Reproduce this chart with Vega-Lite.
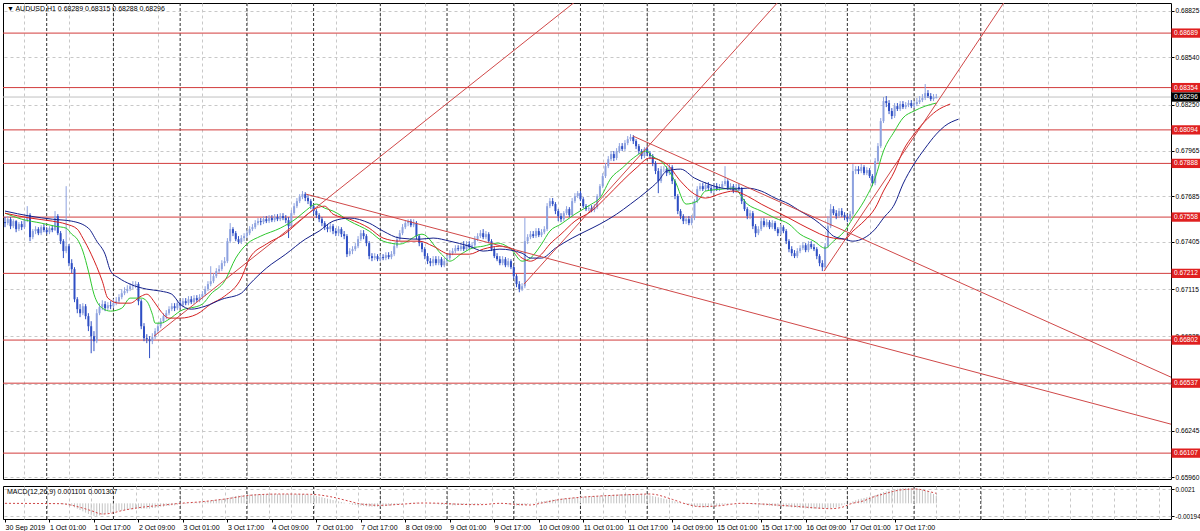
{
"$schema":"https://vega.github.io/schema/vega-lite/v6.json",
"background":"#ffffff",
"padding":{"left":2,"top":2,"right":0,"bottom":0},
"spacing":3,
"config":{"view":{"stroke":"#000000","strokeWidth":1},"font":"Liberation Sans","axis":{"labelFont":"Liberation Sans","labelFontSize":7,"labelColor":"#000000","tickColor":"#000000","domainColor":"#000000"}},
"datasets":{
"bars":[
{"i":0,"o":0.67527,"h":0.67558,"l":0.67496,"c":0.67521,"m":0.00005},
{"i":1,"o":0.67521,"h":0.67564,"l":0.67508,"c":0.67545,"m":0.00004},
{"i":2,"o":0.67545,"h":0.67558,"l":0.67484,"c":0.67502,"m":0.00003},
{"i":3,"o":0.67502,"h":0.67545,"l":0.67490,"c":0.67533,"m":0.00003},
{"i":4,"o":0.67533,"h":0.67539,"l":0.67465,"c":0.67484,"m":0.00002},
{"i":5,"o":0.67484,"h":0.67527,"l":0.67472,"c":0.67515,"m":0.00001},
{"i":6,"o":0.67515,"h":0.67533,"l":0.67478,"c":0.67496,"m":0},
{"i":7,"o":0.67496,"h":0.67552,"l":0.67484,"c":0.67539,"m":0},
{"i":8,"o":0.67539,"h":0.67625,"l":0.67527,"c":0.67570,"m":-0.00001},
{"i":9,"o":0.67570,"h":0.67582,"l":0.67410,"c":0.67435,"m":-0.00003},
{"i":10,"o":0.67435,"h":0.67484,"l":0.67422,"c":0.67472,"m":-0.00003},
{"i":11,"o":0.67472,"h":0.67502,"l":0.67453,"c":0.67484,"m":-0.00003},
{"i":12,"o":0.67484,"h":0.67496,"l":0.67447,"c":0.67459,"m":-0.00004},
{"i":13,"o":0.67459,"h":0.67508,"l":0.67447,"c":0.67496,"m":-0.00004},
{"i":14,"o":0.67496,"h":0.67515,"l":0.67465,"c":0.67478,"m":-0.00004},
{"i":15,"o":0.67478,"h":0.67496,"l":0.67453,"c":0.67465,"m":-0.00005},
{"i":16,"o":0.67465,"h":0.67502,"l":0.67453,"c":0.67490,"m":-0.00005},
{"i":17,"o":0.67490,"h":0.67508,"l":0.67465,"c":0.67478,"m":-0.00005},
{"i":18,"o":0.67478,"h":0.67595,"l":0.67472,"c":0.67564,"m":-0.00004},
{"i":19,"o":0.67564,"h":0.67576,"l":0.67447,"c":0.67459,"m":-0.00006},
{"i":20,"o":0.67459,"h":0.67472,"l":0.67392,"c":0.67410,"m":-0.0001},
{"i":21,"o":0.67410,"h":0.67422,"l":0.67306,"c":0.67349,"m":-0.00015},
{"i":22,"o":0.67349,"h":0.67748,"l":0.67336,"c":0.67379,"m":-0.0002},
{"i":23,"o":0.67379,"h":0.67392,"l":0.67256,"c":0.67275,"m":-0.0003},
{"i":24,"o":0.67275,"h":0.67299,"l":0.67213,"c":0.67238,"m":-0.0004},
{"i":25,"o":0.67238,"h":0.67250,"l":0.67035,"c":0.67053,"m":-0.0006},
{"i":26,"o":0.67053,"h":0.67066,"l":0.66967,"c":0.66992,"m":-0.0008},
{"i":27,"o":0.66992,"h":0.67023,"l":0.66943,"c":0.66967,"m":-0.001},
{"i":28,"o":0.66967,"h":0.67029,"l":0.66955,"c":0.67010,"m":-0.0012},
{"i":29,"o":0.67010,"h":0.67023,"l":0.66930,"c":0.66949,"m":-0.0014},
{"i":30,"o":0.66949,"h":0.66967,"l":0.66857,"c":0.66887,"m":-0.0016},
{"i":31,"o":0.66887,"h":0.66918,"l":0.66721,"c":0.66826,"m":-0.0018},
{"i":32,"o":0.66826,"h":0.66857,"l":0.66734,"c":0.66795,"m":-0.0019},
{"i":33,"o":0.66795,"h":0.66992,"l":0.66783,"c":0.66967,"m":-0.0019},
{"i":34,"o":0.66967,"h":0.67029,"l":0.66955,"c":0.67004,"m":-0.0018},
{"i":35,"o":0.67004,"h":0.67047,"l":0.66986,"c":0.67023,"m":-0.0017},
{"i":36,"o":0.67023,"h":0.67041,"l":0.66980,"c":0.66998,"m":-0.0016},
{"i":37,"o":0.66998,"h":0.67035,"l":0.66986,"c":0.67016,"m":-0.0015},
{"i":38,"o":0.67016,"h":0.67041,"l":0.66992,"c":0.67010,"m":-0.0014},
{"i":39,"o":0.67010,"h":0.67053,"l":0.66998,"c":0.67029,"m":-0.0013},
{"i":40,"o":0.67029,"h":0.67066,"l":0.67016,"c":0.67041,"m":-0.0012},
{"i":41,"o":0.67041,"h":0.67084,"l":0.67029,"c":0.67066,"m":-0.0011},
{"i":42,"o":0.67066,"h":0.67115,"l":0.67053,"c":0.67090,"m":-0.0011},
{"i":43,"o":0.67090,"h":0.67127,"l":0.67078,"c":0.67103,"m":-0.001},
{"i":44,"o":0.67103,"h":0.67139,"l":0.67090,"c":0.67115,"m":-0.001},
{"i":45,"o":0.67115,"h":0.67152,"l":0.67103,"c":0.67133,"m":-0.0009},
{"i":46,"o":0.67133,"h":0.67164,"l":0.67115,"c":0.67139,"m":-0.0009},
{"i":47,"o":0.67139,"h":0.67164,"l":0.67121,"c":0.67146,"m":-0.0008},
{"i":48,"o":0.67146,"h":0.67158,"l":0.67016,"c":0.67041,"m":-0.0008},
{"i":49,"o":0.67041,"h":0.67053,"l":0.66869,"c":0.66887,"m":-0.0008},
{"i":50,"o":0.66887,"h":0.66906,"l":0.66795,"c":0.66814,"m":-0.0008},
{"i":51,"o":0.66814,"h":0.66838,"l":0.66783,"c":0.66807,"m":-0.0008},
{"i":52,"o":0.66807,"h":0.66826,"l":0.66691,"c":0.66795,"m":-0.0008},
{"i":53,"o":0.66795,"h":0.66844,"l":0.66777,"c":0.66820,"m":-0.0007},
{"i":54,"o":0.66820,"h":0.66875,"l":0.66807,"c":0.66857,"m":-0.0007},
{"i":55,"o":0.66857,"h":0.66906,"l":0.66844,"c":0.66887,"m":-0.0006},
{"i":56,"o":0.66887,"h":0.66937,"l":0.66875,"c":0.66918,"m":-0.0005},
{"i":57,"o":0.66918,"h":0.66967,"l":0.66906,"c":0.66949,"m":-0.0005},
{"i":58,"o":0.66949,"h":0.66986,"l":0.66930,"c":0.66967,"m":-0.0004},
{"i":59,"o":0.66967,"h":0.67010,"l":0.66955,"c":0.66992,"m":-0.0004},
{"i":60,"o":0.66992,"h":0.67029,"l":0.66980,"c":0.67010,"m":-0.0003},
{"i":61,"o":0.67010,"h":0.67029,"l":0.66980,"c":0.66998,"m":-0.0003},
{"i":62,"o":0.66998,"h":0.67047,"l":0.66986,"c":0.67029,"m":-0.0002},
{"i":63,"o":0.67029,"h":0.67047,"l":0.66998,"c":0.67016,"m":-0.0002},
{"i":64,"o":0.67016,"h":0.67060,"l":0.67004,"c":0.67041,"m":-0.0001},
{"i":65,"o":0.67041,"h":0.67060,"l":0.67016,"c":0.67029,"m":-0.0001},
{"i":66,"o":0.67029,"h":0.67072,"l":0.67016,"c":0.67053,"m":0},
{"i":67,"o":0.67053,"h":0.67072,"l":0.67023,"c":0.67035,"m":0.00005},
{"i":68,"o":0.67035,"h":0.67078,"l":0.67023,"c":0.67060,"m":0.0001},
{"i":69,"o":0.67060,"h":0.67078,"l":0.67035,"c":0.67047,"m":0.00015},
{"i":70,"o":0.67047,"h":0.67084,"l":0.67035,"c":0.67066,"m":0.0002},
{"i":71,"o":0.67066,"h":0.67103,"l":0.67053,"c":0.67084,"m":0.00025},
{"i":72,"o":0.67084,"h":0.67133,"l":0.67072,"c":0.67115,"m":0.0003},
{"i":73,"o":0.67115,"h":0.67164,"l":0.67103,"c":0.67146,"m":0.00035},
{"i":74,"o":0.67146,"h":0.67256,"l":0.67133,"c":0.67164,"m":0.0004},
{"i":75,"o":0.67164,"h":0.67213,"l":0.67152,"c":0.67195,"m":0.0005},
{"i":76,"o":0.67195,"h":0.67244,"l":0.67183,"c":0.67226,"m":0.00055},
{"i":77,"o":0.67226,"h":0.67262,"l":0.67213,"c":0.67238,"m":0.0006},
{"i":78,"o":0.67238,"h":0.67293,"l":0.67226,"c":0.67275,"m":0.00065},
{"i":79,"o":0.67275,"h":0.67312,"l":0.67256,"c":0.67287,"m":0.0007},
{"i":80,"o":0.67287,"h":0.67429,"l":0.67275,"c":0.67410,"m":0.0008},
{"i":81,"o":0.67410,"h":0.67521,"l":0.67398,"c":0.67484,"m":0.0009},
{"i":82,"o":0.67484,"h":0.67496,"l":0.67441,"c":0.67459,"m":0.001},
{"i":83,"o":0.67459,"h":0.67472,"l":0.67410,"c":0.67422,"m":0.0011},
{"i":84,"o":0.67422,"h":0.67441,"l":0.67392,"c":0.67404,"m":0.00115},
{"i":85,"o":0.67404,"h":0.67447,"l":0.67392,"c":0.67429,"m":0.0012},
{"i":86,"o":0.67429,"h":0.67459,"l":0.67410,"c":0.67441,"m":0.00125},
{"i":87,"o":0.67441,"h":0.67478,"l":0.67429,"c":0.67459,"m":0.0013},
{"i":88,"o":0.67459,"h":0.67502,"l":0.67447,"c":0.67484,"m":0.0013},
{"i":89,"o":0.67484,"h":0.67515,"l":0.67472,"c":0.67496,"m":0.00135},
{"i":90,"o":0.67496,"h":0.67539,"l":0.67484,"c":0.67521,"m":0.00135},
{"i":91,"o":0.67521,"h":0.67552,"l":0.67508,"c":0.67533,"m":0.0014},
{"i":92,"o":0.67533,"h":0.67552,"l":0.67508,"c":0.67527,"m":0.0014},
{"i":93,"o":0.67527,"h":0.67564,"l":0.67515,"c":0.67545,"m":0.0014},
{"i":94,"o":0.67545,"h":0.67564,"l":0.67521,"c":0.67533,"m":0.0014},
{"i":95,"o":0.67533,"h":0.67570,"l":0.67521,"c":0.67552,"m":0.0014},
{"i":96,"o":0.67552,"h":0.67570,"l":0.67527,"c":0.67539,"m":0.0014},
{"i":97,"o":0.67539,"h":0.67576,"l":0.67527,"c":0.67558,"m":0.0014},
{"i":98,"o":0.67558,"h":0.67576,"l":0.67533,"c":0.67545,"m":0.0014},
{"i":99,"o":0.67545,"h":0.67582,"l":0.67533,"c":0.67564,"m":0.0014},
{"i":100,"o":0.67564,"h":0.67582,"l":0.67539,"c":0.67552,"m":0.0014},
{"i":101,"o":0.67552,"h":0.67570,"l":0.67521,"c":0.67539,"m":0.0014},
{"i":102,"o":0.67539,"h":0.67558,"l":0.67429,"c":0.67502,"m":0.0014},
{"i":103,"o":0.67502,"h":0.67601,"l":0.67490,"c":0.67582,"m":0.00135},
{"i":104,"o":0.67582,"h":0.67644,"l":0.67570,"c":0.67625,"m":0.00135},
{"i":105,"o":0.67625,"h":0.67675,"l":0.67613,"c":0.67656,"m":0.0014},
{"i":106,"o":0.67656,"h":0.67699,"l":0.67644,"c":0.67681,"m":0.0014},
{"i":107,"o":0.67681,"h":0.67718,"l":0.67668,"c":0.67699,"m":0.0014},
{"i":108,"o":0.67699,"h":0.67711,"l":0.67656,"c":0.67675,"m":0.00135},
{"i":109,"o":0.67675,"h":0.67693,"l":0.67638,"c":0.67656,"m":0.0013},
{"i":110,"o":0.67656,"h":0.67668,"l":0.67607,"c":0.67625,"m":0.00125},
{"i":111,"o":0.67625,"h":0.67638,"l":0.67576,"c":0.67595,"m":0.0012},
{"i":112,"o":0.67595,"h":0.67607,"l":0.67552,"c":0.67570,"m":0.0011},
{"i":113,"o":0.67570,"h":0.67582,"l":0.67527,"c":0.67545,"m":0.001},
{"i":114,"o":0.67545,"h":0.67558,"l":0.67502,"c":0.67521,"m":0.0009},
{"i":115,"o":0.67521,"h":0.67533,"l":0.67478,"c":0.67496,"m":0.0008},
{"i":116,"o":0.67496,"h":0.67515,"l":0.67465,"c":0.67484,"m":0.0007},
{"i":117,"o":0.67484,"h":0.67521,"l":0.67465,"c":0.67502,"m":0.0006},
{"i":118,"o":0.67502,"h":0.67515,"l":0.67453,"c":0.67472,"m":0.0005},
{"i":119,"o":0.67472,"h":0.67490,"l":0.67441,"c":0.67459,"m":0.0004},
{"i":120,"o":0.67459,"h":0.67502,"l":0.67441,"c":0.67484,"m":0.0003},
{"i":121,"o":0.67484,"h":0.67496,"l":0.67435,"c":0.67453,"m":0.0002},
{"i":122,"o":0.67453,"h":0.67472,"l":0.67422,"c":0.67441,"m":0.0001},
{"i":123,"o":0.67441,"h":0.67453,"l":0.67312,"c":0.67330,"m":0},
{"i":124,"o":0.67330,"h":0.67367,"l":0.67318,"c":0.67349,"m":-0.0001},
{"i":125,"o":0.67349,"h":0.67379,"l":0.67330,"c":0.67361,"m":-0.0002},
{"i":126,"o":0.67361,"h":0.67398,"l":0.67349,"c":0.67379,"m":-0.00025},
{"i":127,"o":0.67379,"h":0.67441,"l":0.67367,"c":0.67422,"m":-0.0003},
{"i":128,"o":0.67422,"h":0.67478,"l":0.67410,"c":0.67459,"m":-0.00035},
{"i":129,"o":0.67459,"h":0.67478,"l":0.67422,"c":0.67441,"m":-0.0004},
{"i":130,"o":0.67441,"h":0.67453,"l":0.67379,"c":0.67398,"m":-0.00045},
{"i":131,"o":0.67398,"h":0.67410,"l":0.67299,"c":0.67318,"m":-0.0005},
{"i":132,"o":0.67318,"h":0.67336,"l":0.67287,"c":0.67306,"m":-0.0005},
{"i":133,"o":0.67306,"h":0.67336,"l":0.67293,"c":0.67318,"m":-0.0005},
{"i":134,"o":0.67318,"h":0.67330,"l":0.67287,"c":0.67299,"m":-0.0005},
{"i":135,"o":0.67299,"h":0.67330,"l":0.67287,"c":0.67312,"m":-0.0005},
{"i":136,"o":0.67312,"h":0.67330,"l":0.67293,"c":0.67306,"m":-0.00045},
{"i":137,"o":0.67306,"h":0.67342,"l":0.67293,"c":0.67324,"m":-0.0004},
{"i":138,"o":0.67324,"h":0.67342,"l":0.67299,"c":0.67312,"m":-0.00035},
{"i":139,"o":0.67312,"h":0.67349,"l":0.67299,"c":0.67330,"m":-0.0003},
{"i":140,"o":0.67330,"h":0.67398,"l":0.67318,"c":0.67379,"m":-0.00025},
{"i":141,"o":0.67379,"h":0.67441,"l":0.67367,"c":0.67422,"m":-0.0002},
{"i":142,"o":0.67422,"h":0.67478,"l":0.67410,"c":0.67459,"m":-0.00015},
{"i":143,"o":0.67459,"h":0.67515,"l":0.67447,"c":0.67496,"m":-0.0001},
{"i":144,"o":0.67496,"h":0.67539,"l":0.67484,"c":0.67521,"m":0},
{"i":145,"o":0.67521,"h":0.67545,"l":0.67502,"c":0.67533,"m":0.00005},
{"i":146,"o":0.67533,"h":0.67545,"l":0.67496,"c":0.67508,"m":0.0001},
{"i":147,"o":0.67508,"h":0.67545,"l":0.67496,"c":0.67521,"m":0.0001},
{"i":148,"o":0.67521,"h":0.67533,"l":0.67422,"c":0.67441,"m":0.0001},
{"i":149,"o":0.67441,"h":0.67453,"l":0.67379,"c":0.67398,"m":0.00005},
{"i":150,"o":0.67398,"h":0.67410,"l":0.67342,"c":0.67361,"m":0.00005},
{"i":151,"o":0.67361,"h":0.67373,"l":0.67299,"c":0.67318,"m":0},
{"i":152,"o":0.67318,"h":0.67336,"l":0.67269,"c":0.67287,"m":0},
{"i":153,"o":0.67287,"h":0.67306,"l":0.67256,"c":0.67275,"m":-0.00005},
{"i":154,"o":0.67275,"h":0.67318,"l":0.67256,"c":0.67299,"m":-0.0001},
{"i":155,"o":0.67299,"h":0.67318,"l":0.67262,"c":0.67275,"m":-0.0001},
{"i":156,"o":0.67275,"h":0.67318,"l":0.67262,"c":0.67299,"m":-0.00015},
{"i":157,"o":0.67299,"h":0.67312,"l":0.67250,"c":0.67262,"m":-0.0002},
{"i":158,"o":0.67262,"h":0.67306,"l":0.67250,"c":0.67287,"m":-0.0002},
{"i":159,"o":0.67287,"h":0.67324,"l":0.67275,"c":0.67306,"m":-0.00025},
{"i":160,"o":0.67306,"h":0.67355,"l":0.67293,"c":0.67336,"m":-0.00025},
{"i":161,"o":0.67336,"h":0.67367,"l":0.67324,"c":0.67349,"m":-0.0003},
{"i":162,"o":0.67349,"h":0.67385,"l":0.67336,"c":0.67367,"m":-0.0003},
{"i":163,"o":0.67367,"h":0.67385,"l":0.67349,"c":0.67361,"m":-0.00025},
{"i":164,"o":0.67361,"h":0.67398,"l":0.67349,"c":0.67379,"m":-0.00025},
{"i":165,"o":0.67379,"h":0.67410,"l":0.67349,"c":0.67361,"m":-0.0002},
{"i":166,"o":0.67361,"h":0.67410,"l":0.67349,"c":0.67392,"m":-0.0002},
{"i":167,"o":0.67392,"h":0.67410,"l":0.67361,"c":0.67373,"m":-0.0002},
{"i":168,"o":0.67373,"h":0.67404,"l":0.67361,"c":0.67385,"m":-0.0002},
{"i":169,"o":0.67385,"h":0.67441,"l":0.67373,"c":0.67422,"m":-0.00015},
{"i":170,"o":0.67422,"h":0.67459,"l":0.67410,"c":0.67441,"m":-0.00015},
{"i":171,"o":0.67441,"h":0.67478,"l":0.67429,"c":0.67459,"m":-0.0001},
{"i":172,"o":0.67459,"h":0.67484,"l":0.67422,"c":0.67435,"m":-0.00005},
{"i":173,"o":0.67435,"h":0.67472,"l":0.67422,"c":0.67453,"m":0},
{"i":174,"o":0.67453,"h":0.67465,"l":0.67398,"c":0.67410,"m":0},
{"i":175,"o":0.67410,"h":0.67422,"l":0.67349,"c":0.67361,"m":0.00005},
{"i":176,"o":0.67361,"h":0.67373,"l":0.67306,"c":0.67318,"m":0},
{"i":177,"o":0.67318,"h":0.67336,"l":0.67287,"c":0.67299,"m":0},
{"i":178,"o":0.67299,"h":0.67318,"l":0.67262,"c":0.67275,"m":-0.00005},
{"i":179,"o":0.67275,"h":0.67318,"l":0.67262,"c":0.67299,"m":-0.00005},
{"i":180,"o":0.67299,"h":0.67312,"l":0.67250,"c":0.67262,"m":-0.0001},
{"i":181,"o":0.67262,"h":0.67306,"l":0.67250,"c":0.67287,"m":-0.00015},
{"i":182,"o":0.67287,"h":0.67299,"l":0.67238,"c":0.67250,"m":-0.0002},
{"i":183,"o":0.67250,"h":0.67262,"l":0.67176,"c":0.67195,"m":-0.00025},
{"i":184,"o":0.67195,"h":0.67207,"l":0.67127,"c":0.67146,"m":-0.0003},
{"i":185,"o":0.67146,"h":0.67164,"l":0.67096,"c":0.67115,"m":-0.00035},
{"i":186,"o":0.67115,"h":0.67152,"l":0.67103,"c":0.67133,"m":-0.00035},
{"i":187,"o":0.67133,"h":0.67552,"l":0.67121,"c":0.67410,"m":-0.00025},
{"i":188,"o":0.67410,"h":0.67453,"l":0.67392,"c":0.67435,"m":-0.00015},
{"i":189,"o":0.67435,"h":0.67472,"l":0.67422,"c":0.67453,"m":-0.00005},
{"i":190,"o":0.67453,"h":0.67472,"l":0.67429,"c":0.67441,"m":0.00005},
{"i":191,"o":0.67441,"h":0.67490,"l":0.67429,"c":0.67472,"m":0.00015},
{"i":192,"o":0.67472,"h":0.67490,"l":0.67435,"c":0.67447,"m":0.00025},
{"i":193,"o":0.67447,"h":0.67484,"l":0.67435,"c":0.67465,"m":0.0003},
{"i":194,"o":0.67465,"h":0.67502,"l":0.67453,"c":0.67484,"m":0.00035},
{"i":195,"o":0.67484,"h":0.67644,"l":0.67472,"c":0.67625,"m":0.0004},
{"i":196,"o":0.67625,"h":0.67675,"l":0.67613,"c":0.67656,"m":0.0005},
{"i":197,"o":0.67656,"h":0.67675,"l":0.67625,"c":0.67638,"m":0.00055},
{"i":198,"o":0.67638,"h":0.67650,"l":0.67576,"c":0.67595,"m":0.0006},
{"i":199,"o":0.67595,"h":0.67607,"l":0.67533,"c":0.67564,"m":0.00065},
{"i":200,"o":0.67564,"h":0.67582,"l":0.67527,"c":0.67545,"m":0.0007},
{"i":201,"o":0.67545,"h":0.67595,"l":0.67533,"c":0.67582,"m":0.00075},
{"i":202,"o":0.67582,"h":0.67625,"l":0.67570,"c":0.67607,"m":0.00075},
{"i":203,"o":0.67607,"h":0.67619,"l":0.67558,"c":0.67570,"m":0.0008},
{"i":204,"o":0.67570,"h":0.67675,"l":0.67558,"c":0.67656,"m":0.00085},
{"i":205,"o":0.67656,"h":0.67705,"l":0.67644,"c":0.67687,"m":0.0009},
{"i":206,"o":0.67687,"h":0.67718,"l":0.67675,"c":0.67705,"m":0.0009},
{"i":207,"o":0.67705,"h":0.67718,"l":0.67656,"c":0.67668,"m":0.00095},
{"i":208,"o":0.67668,"h":0.67681,"l":0.67613,"c":0.67625,"m":0.001},
{"i":209,"o":0.67625,"h":0.67638,"l":0.67595,"c":0.67607,"m":0.001},
{"i":210,"o":0.67607,"h":0.67631,"l":0.67595,"c":0.67613,"m":0.00105},
{"i":211,"o":0.67613,"h":0.67631,"l":0.67588,"c":0.67601,"m":0.00105},
{"i":212,"o":0.67601,"h":0.67638,"l":0.67588,"c":0.67619,"m":0.0011},
{"i":213,"o":0.67619,"h":0.67699,"l":0.67607,"c":0.67687,"m":0.0011},
{"i":214,"o":0.67687,"h":0.67761,"l":0.67675,"c":0.67748,"m":0.00115},
{"i":215,"o":0.67748,"h":0.67828,"l":0.67736,"c":0.67810,"m":0.0012},
{"i":216,"o":0.67810,"h":0.67890,"l":0.67798,"c":0.67871,"m":0.0012},
{"i":217,"o":0.67871,"h":0.67933,"l":0.67859,"c":0.67914,"m":0.00125},
{"i":218,"o":0.67914,"h":0.67964,"l":0.67902,"c":0.67945,"m":0.00125},
{"i":219,"o":0.67945,"h":0.67964,"l":0.67902,"c":0.67921,"m":0.0013},
{"i":220,"o":0.67921,"h":0.67982,"l":0.67908,"c":0.67964,"m":0.0013},
{"i":221,"o":0.67964,"h":0.68013,"l":0.67951,"c":0.67994,"m":0.00135},
{"i":222,"o":0.67994,"h":0.68013,"l":0.67964,"c":0.67976,"m":0.00135},
{"i":223,"o":0.67976,"h":0.68031,"l":0.67964,"c":0.68013,"m":0.0014},
{"i":224,"o":0.68013,"h":0.68056,"l":0.68000,"c":0.68037,"m":0.0014},
{"i":225,"o":0.68037,"h":0.68068,"l":0.68025,"c":0.68050,"m":0.0014},
{"i":226,"o":0.68050,"h":0.68062,"l":0.68007,"c":0.68025,"m":0.0014},
{"i":227,"o":0.68025,"h":0.68037,"l":0.67976,"c":0.67994,"m":0.0014},
{"i":228,"o":0.67994,"h":0.68007,"l":0.67945,"c":0.67964,"m":0.0014},
{"i":229,"o":0.67964,"h":0.67976,"l":0.67914,"c":0.67933,"m":0.0014},
{"i":230,"o":0.67933,"h":0.67988,"l":0.67921,"c":0.67976,"m":0.00135},
{"i":231,"o":0.67976,"h":0.67994,"l":0.67933,"c":0.67951,"m":0.0013},
{"i":232,"o":0.67951,"h":0.67964,"l":0.67914,"c":0.67933,"m":0.0012},
{"i":233,"o":0.67933,"h":0.67945,"l":0.67871,"c":0.67890,"m":0.0011},
{"i":234,"o":0.67890,"h":0.67902,"l":0.67822,"c":0.67841,"m":0.001},
{"i":235,"o":0.67841,"h":0.67859,"l":0.67705,"c":0.67779,"m":0.0009},
{"i":236,"o":0.67779,"h":0.67871,"l":0.67767,"c":0.67853,"m":0.0008},
{"i":237,"o":0.67853,"h":0.67871,"l":0.67834,"c":0.67853,"m":0.0007},
{"i":238,"o":0.67853,"h":0.67871,"l":0.67810,"c":0.67828,"m":0.0006},
{"i":239,"o":0.67828,"h":0.67884,"l":0.67816,"c":0.67865,"m":0.0005},
{"i":240,"o":0.67865,"h":0.67877,"l":0.67761,"c":0.67779,"m":0.0004},
{"i":241,"o":0.67779,"h":0.67791,"l":0.67668,"c":0.67687,"m":0.0003},
{"i":242,"o":0.67687,"h":0.67699,"l":0.67576,"c":0.67595,"m":0.0002},
{"i":243,"o":0.67595,"h":0.67607,"l":0.67545,"c":0.67564,"m":0.0001},
{"i":244,"o":0.67564,"h":0.67576,"l":0.67515,"c":0.67533,"m":0},
{"i":245,"o":0.67533,"h":0.67564,"l":0.67515,"c":0.67545,"m":-0.0001},
{"i":246,"o":0.67545,"h":0.67564,"l":0.67508,"c":0.67521,"m":-0.0002},
{"i":247,"o":0.67521,"h":0.67570,"l":0.67508,"c":0.67552,"m":-0.0003},
{"i":248,"o":0.67552,"h":0.67668,"l":0.67539,"c":0.67656,"m":-0.0004},
{"i":249,"o":0.67656,"h":0.67748,"l":0.67644,"c":0.67730,"m":-0.0005},
{"i":250,"o":0.67730,"h":0.67767,"l":0.67718,"c":0.67748,"m":-0.00055},
{"i":251,"o":0.67748,"h":0.67767,"l":0.67718,"c":0.67730,"m":-0.0006},
{"i":252,"o":0.67730,"h":0.67773,"l":0.67718,"c":0.67754,"m":-0.0006},
{"i":253,"o":0.67754,"h":0.67773,"l":0.67724,"c":0.67736,"m":-0.0006},
{"i":254,"o":0.67736,"h":0.67754,"l":0.67705,"c":0.67718,"m":-0.00055},
{"i":255,"o":0.67718,"h":0.67767,"l":0.67705,"c":0.67748,"m":-0.0005},
{"i":256,"o":0.67748,"h":0.67767,"l":0.67718,"c":0.67730,"m":-0.0004},
{"i":257,"o":0.67730,"h":0.67761,"l":0.67718,"c":0.67742,"m":-0.0003},
{"i":258,"o":0.67742,"h":0.67779,"l":0.67730,"c":0.67761,"m":-0.0002},
{"i":259,"o":0.67761,"h":0.67871,"l":0.67748,"c":0.67779,"m":-0.00015},
{"i":260,"o":0.67779,"h":0.67791,"l":0.67724,"c":0.67736,"m":-0.0001},
{"i":261,"o":0.67736,"h":0.67767,"l":0.67724,"c":0.67748,"m":-0.00005},
{"i":262,"o":0.67748,"h":0.67761,"l":0.67705,"c":0.67718,"m":0},
{"i":263,"o":0.67718,"h":0.67761,"l":0.67705,"c":0.67742,"m":0},
{"i":264,"o":0.67742,"h":0.67761,"l":0.67718,"c":0.67730,"m":-0.00005},
{"i":265,"o":0.67730,"h":0.67742,"l":0.67638,"c":0.67656,"m":-0.00005},
{"i":266,"o":0.67656,"h":0.67668,"l":0.67595,"c":0.67607,"m":-0.0001},
{"i":267,"o":0.67607,"h":0.67619,"l":0.67545,"c":0.67564,"m":-0.0001},
{"i":268,"o":0.67564,"h":0.67601,"l":0.67545,"c":0.67582,"m":-0.0001},
{"i":269,"o":0.67582,"h":0.67595,"l":0.67484,"c":0.67502,"m":-0.00015},
{"i":270,"o":0.67502,"h":0.67515,"l":0.67435,"c":0.67459,"m":-0.00015},
{"i":271,"o":0.67459,"h":0.67502,"l":0.67447,"c":0.67484,"m":-0.0002},
{"i":272,"o":0.67484,"h":0.67552,"l":0.67472,"c":0.67533,"m":-0.00025},
{"i":273,"o":0.67533,"h":0.67552,"l":0.67496,"c":0.67508,"m":-0.0003},
{"i":274,"o":0.67508,"h":0.67545,"l":0.67496,"c":0.67527,"m":-0.0003},
{"i":275,"o":0.67527,"h":0.67539,"l":0.67484,"c":0.67496,"m":-0.00035},
{"i":276,"o":0.67496,"h":0.67539,"l":0.67484,"c":0.67521,"m":-0.0004},
{"i":277,"o":0.67521,"h":0.67533,"l":0.67472,"c":0.67484,"m":-0.0004},
{"i":278,"o":0.67484,"h":0.67496,"l":0.67441,"c":0.67459,"m":-0.00045},
{"i":279,"o":0.67459,"h":0.67515,"l":0.67447,"c":0.67496,"m":-0.00045},
{"i":280,"o":0.67496,"h":0.67508,"l":0.67459,"c":0.67472,"m":-0.0005},
{"i":281,"o":0.67472,"h":0.67484,"l":0.67392,"c":0.67410,"m":-0.0005},
{"i":282,"o":0.67410,"h":0.67422,"l":0.67342,"c":0.67361,"m":-0.00055},
{"i":283,"o":0.67361,"h":0.67379,"l":0.67318,"c":0.67336,"m":-0.0006},
{"i":284,"o":0.67336,"h":0.67355,"l":0.67306,"c":0.67318,"m":-0.0006},
{"i":285,"o":0.67318,"h":0.67367,"l":0.67306,"c":0.67349,"m":-0.00065},
{"i":286,"o":0.67349,"h":0.67385,"l":0.67336,"c":0.67367,"m":-0.0007},
{"i":287,"o":0.67367,"h":0.67404,"l":0.67355,"c":0.67385,"m":-0.0007},
{"i":288,"o":0.67385,"h":0.67398,"l":0.67342,"c":0.67355,"m":-0.00075},
{"i":289,"o":0.67355,"h":0.67410,"l":0.67342,"c":0.67392,"m":-0.00075},
{"i":290,"o":0.67392,"h":0.67410,"l":0.67361,"c":0.67373,"m":-0.0008},
{"i":291,"o":0.67373,"h":0.67392,"l":0.67349,"c":0.67361,"m":-0.0008},
{"i":292,"o":0.67361,"h":0.67373,"l":0.67299,"c":0.67318,"m":-0.0008},
{"i":293,"o":0.67318,"h":0.67330,"l":0.67256,"c":0.67275,"m":-0.0008},
{"i":294,"o":0.67275,"h":0.67293,"l":0.67226,"c":0.67250,"m":-0.0008},
{"i":295,"o":0.67250,"h":0.67398,"l":0.67238,"c":0.67379,"m":-0.0008},
{"i":296,"o":0.67379,"h":0.67564,"l":0.67367,"c":0.67502,"m":-0.00075},
{"i":297,"o":0.67502,"h":0.67638,"l":0.67490,"c":0.67607,"m":-0.0007},
{"i":298,"o":0.67607,"h":0.67625,"l":0.67570,"c":0.67582,"m":-0.00065},
{"i":299,"o":0.67582,"h":0.67601,"l":0.67545,"c":0.67564,"m":-0.0006},
{"i":300,"o":0.67564,"h":0.67613,"l":0.67552,"c":0.67595,"m":-0.0005},
{"i":301,"o":0.67595,"h":0.67613,"l":0.67558,"c":0.67570,"m":-0.0003},
{"i":302,"o":0.67570,"h":0.67588,"l":0.67539,"c":0.67558,"m":-0.00015},
{"i":303,"o":0.67558,"h":0.67576,"l":0.67527,"c":0.67545,"m":0},
{"i":304,"o":0.67545,"h":0.67595,"l":0.67533,"c":0.67576,"m":0.0001},
{"i":305,"o":0.67576,"h":0.67884,"l":0.67564,"c":0.67841,"m":0.0003},
{"i":306,"o":0.67841,"h":0.67871,"l":0.67822,"c":0.67853,"m":0.00045},
{"i":307,"o":0.67853,"h":0.67871,"l":0.67822,"c":0.67841,"m":0.0006},
{"i":308,"o":0.67841,"h":0.67884,"l":0.67828,"c":0.67865,"m":0.0007},
{"i":309,"o":0.67865,"h":0.67877,"l":0.67816,"c":0.67828,"m":0.0008},
{"i":310,"o":0.67828,"h":0.67865,"l":0.67816,"c":0.67847,"m":0.0009},
{"i":311,"o":0.67847,"h":0.67859,"l":0.67798,"c":0.67810,"m":0.001},
{"i":312,"o":0.67810,"h":0.67822,"l":0.67748,"c":0.67767,"m":0.0011},
{"i":313,"o":0.67767,"h":0.67921,"l":0.67754,"c":0.67902,"m":0.00125},
{"i":314,"o":0.67902,"h":0.68013,"l":0.67890,"c":0.67994,"m":0.0014},
{"i":315,"o":0.67994,"h":0.68167,"l":0.67982,"c":0.68148,"m":0.00155},
{"i":316,"o":0.68148,"h":0.68296,"l":0.68136,"c":0.68271,"m":0.0017},
{"i":317,"o":0.68271,"h":0.68302,"l":0.68234,"c":0.68259,"m":0.0018},
{"i":318,"o":0.68259,"h":0.68277,"l":0.68191,"c":0.68210,"m":0.0019},
{"i":319,"o":0.68210,"h":0.68228,"l":0.68160,"c":0.68179,"m":0.002},
{"i":320,"o":0.68179,"h":0.68259,"l":0.68167,"c":0.68240,"m":0.0021},
{"i":321,"o":0.68240,"h":0.68259,"l":0.68210,"c":0.68222,"m":0.0022},
{"i":322,"o":0.68222,"h":0.68271,"l":0.68210,"c":0.68253,"m":0.00225},
{"i":323,"o":0.68253,"h":0.68271,"l":0.68222,"c":0.68234,"m":0.0023},
{"i":324,"o":0.68234,"h":0.68265,"l":0.68222,"c":0.68246,"m":0.0023},
{"i":325,"o":0.68246,"h":0.68277,"l":0.68234,"c":0.68259,"m":0.0023},
{"i":326,"o":0.68259,"h":0.68277,"l":0.68228,"c":0.68240,"m":0.0023},
{"i":327,"o":0.68240,"h":0.68271,"l":0.68228,"c":0.68253,"m":0.00225},
{"i":328,"o":0.68253,"h":0.68290,"l":0.68240,"c":0.68265,"m":0.0022},
{"i":329,"o":0.68265,"h":0.68302,"l":0.68253,"c":0.68277,"m":0.0021},
{"i":330,"o":0.68277,"h":0.68314,"l":0.68265,"c":0.68290,"m":0.002},
{"i":331,"o":0.68290,"h":0.68376,"l":0.68277,"c":0.68320,"m":0.0019},
{"i":332,"o":0.68320,"h":0.68339,"l":0.68290,"c":0.68302,"m":0.0018},
{"i":333,"o":0.68302,"h":0.68320,"l":0.68271,"c":0.68283,"m":0.0016},
{"i":334,"o":0.68283,"h":0.68314,"l":0.68271,"c":0.68296,"m":0.0014},
{"i":335,"o":0.68289,"h":0.68315,"l":0.68288,"c":0.68296,"m":0.0011}
],
"ma":[
{"s":"lips","i":0,"p":0.67582},{"s":"lips","i":6,"p":0.67545},{"s":"lips","i":13,"p":0.67521},{"s":"lips","i":18,"p":0.67502},{"s":"lips","i":22,"p":0.67490},{"s":"lips","i":24,"p":0.67453},{"s":"lips","i":26,"p":0.67422},{"s":"lips","i":28,"p":0.67349},{"s":"lips","i":30,"p":0.67226},{"s":"lips","i":32,"p":0.67084},{"s":"lips","i":35,"p":0.66998},{"s":"lips","i":38,"p":0.66980},{"s":"lips","i":42,"p":0.66998},{"s":"lips","i":45,"p":0.67060},{"s":"lips","i":49,"p":0.67060},{"s":"lips","i":51,"p":0.67041},{"s":"lips","i":53,"p":0.66961},{"s":"lips","i":54,"p":0.66906},{"s":"lips","i":56,"p":0.66906},{"s":"lips","i":59,"p":0.66930},{"s":"lips","i":63,"p":0.66980},{"s":"lips","i":71,"p":0.67023},{"s":"lips","i":74,"p":0.67084},{"s":"lips","i":79,"p":0.67164},{"s":"lips","i":83,"p":0.67306},{"s":"lips","i":87,"p":0.67392},{"s":"lips","i":92,"p":0.67441},{"s":"lips","i":99,"p":0.67490},{"s":"lips","i":105,"p":0.67552},{"s":"lips","i":108,"p":0.67595},{"s":"lips","i":112,"p":0.67638},{"s":"lips","i":115,"p":0.67613},{"s":"lips","i":118,"p":0.67595},{"s":"lips","i":124,"p":0.67533},{"s":"lips","i":131,"p":0.67472},{"s":"lips","i":136,"p":0.67410},{"s":"lips","i":142,"p":0.67392},{"s":"lips","i":150,"p":0.67453},{"s":"lips","i":157,"p":0.67330},{"s":"lips","i":160,"p":0.67287},{"s":"lips","i":164,"p":0.67330},{"s":"lips","i":168,"p":0.67367},{"s":"lips","i":172,"p":0.67379},{"s":"lips","i":177,"p":0.67398},{"s":"lips","i":182,"p":0.67361},{"s":"lips","i":186,"p":0.67287},{"s":"lips","i":189,"p":0.67306},{"s":"lips","i":193,"p":0.67392},{"s":"lips","i":196,"p":0.67472},{"s":"lips","i":200,"p":0.67515},{"s":"lips","i":205,"p":0.67576},{"s":"lips","i":211,"p":0.67638},{"s":"lips","i":214,"p":0.67675},{"s":"lips","i":218,"p":0.67798},{"s":"lips","i":222,"p":0.67859},{"s":"lips","i":226,"p":0.67921},{"s":"lips","i":231,"p":0.67964},{"s":"lips","i":232,"p":0.67945},{"s":"lips","i":237,"p":0.67884},{"s":"lips","i":241,"p":0.67779},{"s":"lips","i":245,"p":0.67638},{"s":"lips","i":249,"p":0.67656},{"s":"lips","i":252,"p":0.67718},{"s":"lips","i":258,"p":0.67730},{"s":"lips","i":262,"p":0.67736},{"s":"lips","i":267,"p":0.67638},{"s":"lips","i":272,"p":0.67595},{"s":"lips","i":277,"p":0.67552},{"s":"lips","i":282,"p":0.67515},{"s":"lips","i":286,"p":0.67453},{"s":"lips","i":291,"p":0.67410},{"s":"lips","i":295,"p":0.67367},{"s":"lips","i":298,"p":0.67410},{"s":"lips","i":302,"p":0.67472},{"s":"lips","i":305,"p":0.67552},{"s":"lips","i":309,"p":0.67656},{"s":"lips","i":313,"p":0.67798},{"s":"lips","i":316,"p":0.67964},{"s":"lips","i":320,"p":0.68087},{"s":"lips","i":323,"p":0.68167},{"s":"lips","i":327,"p":0.68210},{"s":"lips","i":331,"p":0.68240},{"s":"lips","i":335,"p":0.68259},
{"s":"teeth","i":0,"p":0.67582},{"s":"teeth","i":9,"p":0.67552},{"s":"teeth","i":17,"p":0.67533},{"s":"teeth","i":22,"p":0.67515},{"s":"teeth","i":26,"p":0.67484},{"s":"teeth","i":28,"p":0.67429},{"s":"teeth","i":31,"p":0.67330},{"s":"teeth","i":35,"p":0.67164},{"s":"teeth","i":37,"p":0.67060},{"s":"teeth","i":41,"p":0.67029},{"s":"teeth","i":45,"p":0.67029},{"s":"teeth","i":49,"p":0.67072},{"s":"teeth","i":51,"p":0.67084},{"s":"teeth","i":54,"p":0.67029},{"s":"teeth","i":56,"p":0.66980},{"s":"teeth","i":59,"p":0.66937},{"s":"teeth","i":63,"p":0.66937},{"s":"teeth","i":69,"p":0.66961},{"s":"teeth","i":74,"p":0.67023},{"s":"teeth","i":79,"p":0.67072},{"s":"teeth","i":85,"p":0.67183},{"s":"teeth","i":88,"p":0.67306},{"s":"teeth","i":94,"p":0.67392},{"s":"teeth","i":101,"p":0.67459},{"s":"teeth","i":106,"p":0.67533},{"s":"teeth","i":112,"p":0.67613},{"s":"teeth","i":115,"p":0.67625},{"s":"teeth","i":118,"p":0.67576},{"s":"teeth","i":124,"p":0.67545},{"s":"teeth","i":131,"p":0.67490},{"s":"teeth","i":136,"p":0.67429},{"s":"teeth","i":142,"p":0.67410},{"s":"teeth","i":149,"p":0.67410},{"s":"teeth","i":154,"p":0.67379},{"s":"teeth","i":160,"p":0.67330},{"s":"teeth","i":167,"p":0.67330},{"s":"teeth","i":172,"p":0.67361},{"s":"teeth","i":178,"p":0.67379},{"s":"teeth","i":182,"p":0.67367},{"s":"teeth","i":186,"p":0.67306},{"s":"teeth","i":189,"p":0.67287},{"s":"teeth","i":193,"p":0.67330},{"s":"teeth","i":196,"p":0.67392},{"s":"teeth","i":200,"p":0.67453},{"s":"teeth","i":205,"p":0.67533},{"s":"teeth","i":211,"p":0.67595},{"s":"teeth","i":216,"p":0.67675},{"s":"teeth","i":222,"p":0.67779},{"s":"teeth","i":227,"p":0.67859},{"s":"teeth","i":232,"p":0.67921},{"s":"teeth","i":238,"p":0.67884},{"s":"teeth","i":243,"p":0.67779},{"s":"teeth","i":248,"p":0.67699},{"s":"teeth","i":252,"p":0.67675},{"s":"teeth","i":258,"p":0.67705},{"s":"teeth","i":262,"p":0.67718},{"s":"teeth","i":267,"p":0.67687},{"s":"teeth","i":272,"p":0.67638},{"s":"teeth","i":277,"p":0.67595},{"s":"teeth","i":282,"p":0.67552},{"s":"teeth","i":286,"p":0.67515},{"s":"teeth","i":291,"p":0.67472},{"s":"teeth","i":295,"p":0.67441},{"s":"teeth","i":298,"p":0.67429},{"s":"teeth","i":302,"p":0.67422},{"s":"teeth","i":305,"p":0.67472},{"s":"teeth","i":309,"p":0.67533},{"s":"teeth","i":313,"p":0.67613},{"s":"teeth","i":316,"p":0.67718},{"s":"teeth","i":320,"p":0.67841},{"s":"teeth","i":323,"p":0.67964},{"s":"teeth","i":327,"p":0.68068},{"s":"teeth","i":331,"p":0.68148},{"s":"teeth","i":335,"p":0.68210},{"s":"teeth","i":340,"p":0.68253},
{"s":"jaw","i":0,"p":0.67595},{"s":"jaw","i":9,"p":0.67564},{"s":"jaw","i":17,"p":0.67545},{"s":"jaw","i":24,"p":0.67533},{"s":"jaw","i":30,"p":0.67490},{"s":"jaw","i":33,"p":0.67410},{"s":"jaw","i":36,"p":0.67330},{"s":"jaw","i":38,"p":0.67226},{"s":"jaw","i":41,"p":0.67183},{"s":"jaw","i":45,"p":0.67146},{"s":"jaw","i":51,"p":0.67115},{"s":"jaw","i":56,"p":0.67103},{"s":"jaw","i":60,"p":0.67084},{"s":"jaw","i":63,"p":0.67023},{"s":"jaw","i":67,"p":0.66992},{"s":"jaw","i":72,"p":0.67010},{"s":"jaw","i":78,"p":0.67053},{"s":"jaw","i":85,"p":0.67090},{"s":"jaw","i":88,"p":0.67146},{"s":"jaw","i":94,"p":0.67244},{"s":"jaw","i":101,"p":0.67330},{"s":"jaw","i":108,"p":0.67422},{"s":"jaw","i":113,"p":0.67472},{"s":"jaw","i":118,"p":0.67533},{"s":"jaw","i":124,"p":0.67552},{"s":"jaw","i":131,"p":0.67521},{"s":"jaw","i":136,"p":0.67472},{"s":"jaw","i":142,"p":0.67429},{"s":"jaw","i":149,"p":0.67422},{"s":"jaw","i":154,"p":0.67429},{"s":"jaw","i":160,"p":0.67410},{"s":"jaw","i":167,"p":0.67379},{"s":"jaw","i":172,"p":0.67349},{"s":"jaw","i":178,"p":0.67361},{"s":"jaw","i":186,"p":0.67336},{"s":"jaw","i":189,"p":0.67306},{"s":"jaw","i":193,"p":0.67306},{"s":"jaw","i":198,"p":0.67367},{"s":"jaw","i":204,"p":0.67429},{"s":"jaw","i":209,"p":0.67472},{"s":"jaw","i":214,"p":0.67515},{"s":"jaw","i":220,"p":0.67576},{"s":"jaw","i":225,"p":0.67638},{"s":"jaw","i":231,"p":0.67718},{"s":"jaw","i":235,"p":0.67779},{"s":"jaw","i":238,"p":0.67841},{"s":"jaw","i":243,"p":0.67853},{"s":"jaw","i":248,"p":0.67798},{"s":"jaw","i":253,"p":0.67761},{"s":"jaw","i":258,"p":0.67736},{"s":"jaw","i":262,"p":0.67730},{"s":"jaw","i":267,"p":0.67736},{"s":"jaw","i":272,"p":0.67718},{"s":"jaw","i":277,"p":0.67675},{"s":"jaw","i":282,"p":0.67638},{"s":"jaw","i":286,"p":0.67595},{"s":"jaw","i":291,"p":0.67545},{"s":"jaw","i":295,"p":0.67490},{"s":"jaw","i":298,"p":0.67441},{"s":"jaw","i":302,"p":0.67422},{"s":"jaw","i":305,"p":0.67410},{"s":"jaw","i":309,"p":0.67429},{"s":"jaw","i":313,"p":0.67484},{"s":"jaw","i":316,"p":0.67552},{"s":"jaw","i":320,"p":0.67638},{"s":"jaw","i":323,"p":0.67761},{"s":"jaw","i":327,"p":0.67884},{"s":"jaw","i":331,"p":0.67982},{"s":"jaw","i":335,"p":0.68068},{"s":"jaw","i":338,"p":0.68117},{"s":"jaw","i":343,"p":0.68160}
],
"sig":[
{"i":0,"v":0},{"i":14,"v":-0.00003},{"i":20,"v":-0.00005},{"i":27,"v":-0.0006},{"i":31,"v":-0.0011},{"i":35,"v":-0.0016},{"i":38,"v":-0.0015},{"i":42,"v":-0.0011},{"i":49,"v":-0.0006},{"i":56,"v":-0.0003},{"i":63,"v":0},{"i":71,"v":0.00025},{"i":80,"v":0.0007},{"i":88,"v":0.0012},{"i":99,"v":0.0014},{"i":110,"v":0.00135},{"i":117,"v":0.001},{"i":124,"v":0.0003},{"i":128,"v":-0.0001},{"i":135,"v":-0.0003},{"i":142,"v":-0.00015},{"i":150,"v":0.00005},{"i":157,"v":0},{"i":164,"v":-0.00015},{"i":171,"v":-0.0002},{"i":178,"v":0},{"i":184,"v":-0.00015},{"i":189,"v":-0.00025},{"i":193,"v":0.00005},{"i":200,"v":0.0006},{"i":207,"v":0.0009},{"i":214,"v":0.0011},{"i":225,"v":0.0013},{"i":232,"v":0.0014},{"i":240,"v":0.0006},{"i":245,"v":-0.0001},{"i":250,"v":-0.0005},{"i":256,"v":-0.0004},{"i":265,"v":0},{"i":272,"v":-0.0001},{"i":279,"v":-0.0003},{"i":286,"v":-0.0005},{"i":292,"v":-0.0007},{"i":297,"v":-0.0008},{"i":301,"v":-0.0006},{"i":304,"v":-0.0001},{"i":309,"v":0.0004},{"i":312,"v":0.0009},{"i":317,"v":0.0015},{"i":322,"v":0.002},{"i":328,"v":0.00215},{"i":331,"v":0.0019},{"i":335,"v":0.0015}
],
"lv":[{"p":0.68689},{"p":0.68354},{"p":0.68094},{"p":0.67888},{"p":0.67558},{"p":0.67212},{"p":0.66802},{"p":0.66537},{"p":0.66107}],
"cur":[{"p":0.68296}],
"tr":[
{"id":"t1","i":53.6,"p":0.66826},{"id":"t1","i":205.4,"p":0.68886},
{"id":"t2","i":186.7,"p":0.67146},{"id":"t2","i":278.4,"p":0.68886},
{"id":"t3","i":294.6,"p":0.67226},{"id":"t3","i":359.7,"p":0.68886},
{"id":"t4","i":108.3,"p":0.67699},{"id":"t4","i":419.42,"p":0.66285},
{"id":"t5","i":225.9,"p":0.68056},{"id":"t5","i":419.42,"p":0.66574}
],
"days":[{"i":15},{"i":39},{"i":63},{"i":87},{"i":111},{"i":135},{"i":159},{"i":183},{"i":207},{"i":231},{"i":255},{"i":279},{"i":303},{"i":327},{"i":351}]
},
"vconcat":[
{
"width":1168,"height":476,
"layer":[
{"data":{"name":"days"},"mark":{"type":"rule","strokeDash":[3,2],"color":"#303030","strokeWidth":1},
 "encoding":{"x":{"field":"i","type":"quantitative","scale":{"domain":[-0.72,419.42],"nice":false,"zero":false},
  "axis":{"orient":"bottom","title":null,"labels":false,"ticks":false,"domain":false,"grid":true,"gridDash":[3,3],"gridColor":"#c8c8c8",
  "values":[7,15,23,31,39,47,55,63,71,79,87,95,103,111,119,127,135,143,151,159,167,175,183,191,199,207,215,223,231,239,247,255,263,271,279,287,295,303,311,319,327,335,343,351,359,367,375,383,391,399,407,415]}}}},
{"data":{"name":"lv"},"mark":{"type":"rule","color":"#d23c3c","strokeWidth":1},
 "encoding":{"y":{"field":"p","type":"quantitative","scale":{"domain":[0.65948,0.68874],"nice":false,"zero":false},
  "axis":{"orient":"right","title":null,"tickSize":3,"labelPadding":1,"labelFontSize":6.6,"domain":false,"grid":true,"gridDash":[3,3],"gridColor":"#c8c8c8","labelOverlap":false,
  "labelExpr":"indexof([0.6868,0.6811,0.67545,0.66535,0.661], datum.value) >= 0 ? '' : format(datum.value, '.5f')",
  "values":[0.68825,0.6868,0.6854,0.68395,0.6825,0.6811,0.67965,0.67825,0.67685,0.67545,0.67405,0.6726,0.67115,0.6697,0.66825,0.6668,0.66535,0.6639,0.66245,0.661,0.6596]}}}},
{"data":{"name":"cur"},"mark":{"type":"rule","color":"#c0c0c0","strokeWidth":1},
 "encoding":{"y":{"field":"p","type":"quantitative"}}},
{"data":{"name":"bars"},"mark":{"type":"rule","strokeWidth":1},
 "encoding":{"x":{"field":"i","type":"quantitative"},"y":{"field":"l","type":"quantitative"},"y2":{"field":"h"},
  "color":{"condition":{"test":"datum.c < datum.o","value":"#2f4fc4"},"value":"#8ea2df"}}},
{"data":{"name":"bars"},"mark":{"type":"rule","strokeWidth":2},
 "encoding":{"x":{"field":"i","type":"quantitative"},"y":{"field":"o","type":"quantitative"},"y2":{"field":"c"},
  "color":{"condition":{"test":"datum.c < datum.o","value":"#2f4fc4"},"value":"#8ea2df"}}},
{"data":{"name":"ma"},"mark":{"type":"line","strokeWidth":1,"interpolate":"monotone"},
 "encoding":{"x":{"field":"i","type":"quantitative"},"y":{"field":"p","type":"quantitative"},
  "color":{"field":"s","type":"nominal","scale":{"domain":["jaw","teeth","lips"],"range":["#14208a","#d42020","#2ec82e"]},"legend":null}}},
{"data":{"name":"tr"},"mark":{"type":"line","strokeWidth":1,"color":"#d04848","clip":true},
 "encoding":{"x":{"field":"i","type":"quantitative"},"y":{"field":"p","type":"quantitative"},"detail":{"field":"id"}}},
{"data":{"name":"lv"},"mark":{"type":"point","shape":"M-1,-0.32H1V0.32H-1Z","size":841,"filled":true,"color":"#e02020","opacity":1,"strokeWidth":0,"clip":false},
 "encoding":{"x":{"datum":424.8},"y":{"field":"p","type":"quantitative"}}},
{"data":{"name":"lv"},"mark":{"type":"text","color":"#ffffff","fontSize":6.6,"align":"center","baseline":"middle","clip":false},
 "encoding":{"x":{"datum":424.8},"y":{"field":"p","type":"quantitative"},"text":{"field":"p","type":"quantitative","format":".5f"}}},
{"data":{"name":"cur"},"mark":{"type":"point","shape":"M-1,-0.32H1V0.32H-1Z","size":841,"filled":true,"color":"#000000","opacity":1,"strokeWidth":0,"clip":false},
 "encoding":{"x":{"datum":424.8},"y":{"field":"p","type":"quantitative"}}},
{"data":{"name":"cur"},"mark":{"type":"text","color":"#ffffff","fontSize":6.6,"align":"center","baseline":"middle","clip":false},
 "encoding":{"x":{"datum":424.8},"y":{"field":"p","type":"quantitative"},"text":{"field":"p","type":"quantitative","format":".5f"}}},
{"data":{"values":[{"t":"▼ AUDUSD,H1  0.68289 0.68315 0.68288 0.68296"}]},"mark":{"type":"text","color":"#000000","fontSize":7,"align":"left","baseline":"middle"},
 "encoding":{"x":{"datum":0.7},"y":{"datum":0.68837},"text":{"field":"t"}}}
]
},
{
"width":1168,"height":33,
"resolve":{"axis":{"x":"independent"}},
"layer":[
{"data":{"name":"days"},"mark":{"type":"rule","strokeDash":[3,2],"color":"#303030","strokeWidth":1},
 "encoding":{"x":{"field":"i","type":"quantitative","scale":{"domain":[-0.72,419.42],"nice":false,"zero":false},
  "axis":{"orient":"top","title":null,"labels":false,"ticks":false,"domain":false,"grid":true,"gridDash":[3,3],"gridColor":"#c8c8c8",
  "values":[7,15,23,31,39,47,55,63,71,79,87,95,103,111,119,127,135,143,151,159,167,175,183,191,199,207,215,223,231,239,247,255,263,271,279,287,295,303,311,319,327,335,343,351,359,367,375,383,391,399,407,415]}}}},
{"data":{"name":"bars"},"mark":{"type":"rule","strokeWidth":1,"color":"#c4c4c4"},
 "encoding":{"x":{"field":"i","type":"quantitative",
  "axis":{"orient":"bottom","title":null,"grid":false,"domain":false,"tickSize":3,"labelAlign":"left","labelPadding":1,"labelFlush":false,"labelOverlap":false,
   "values":[0,16,32,48,64,80,96,112,128,144,160,176,192,208,224,240,256,272,288,304,320],
   "labelExpr":"['30 Sep 2019','1 Oct 01:00','1 Oct 17:00','2 Oct 09:00','3 Oct 01:00','3 Oct 17:00','4 Oct 09:00','7 Oct 01:00','7 Oct 17:00','8 Oct 09:00','9 Oct 01:00','9 Oct 17:00','10 Oct 09:00','11 Oct 01:00','11 Oct 17:00','14 Oct 09:00','15 Oct 01:00','15 Oct 17:00','16 Oct 09:00','17 Oct 01:00','17 Oct 17:00'][round(datum.value/16)]"}},
  "y":{"field":"m","type":"quantitative","scale":{"domain":[-0.00235,0.0026],"nice":false,"zero":false},
   "axis":{"orient":"right","title":null,"tickSize":3,"labelPadding":1,"labelFontSize":6.4,"domain":false,"grid":true,"gridDash":[3,3],"gridColor":"#c8c8c8","values":[0.0021,0,-0.00194],"labelOverlap":false,
   "labelExpr":"datum.value > 0.001 ? '0.0021' : (datum.value < -0.001 ? '-0.00194' : '0.00')"}},
  "y2":{"datum":0}}},
{"data":{"name":"sig"},"mark":{"type":"line","strokeWidth":1,"color":"#d04848","strokeDash":[2,2],"interpolate":"monotone"},
 "encoding":{"x":{"field":"i","type":"quantitative","axis":null},"y":{"field":"v","type":"quantitative"}}},
{"data":{"values":[{"t":"MACD(12,26,9) 0.001101 0.001307"}]},"mark":{"type":"text","color":"#000000","fontSize":7,"align":"left","baseline":"middle"},
 "encoding":{"x":{"datum":0.7,"axis":null},"y":{"datum":0.0017},"text":{"field":"t"}}}
]
}
]
}
